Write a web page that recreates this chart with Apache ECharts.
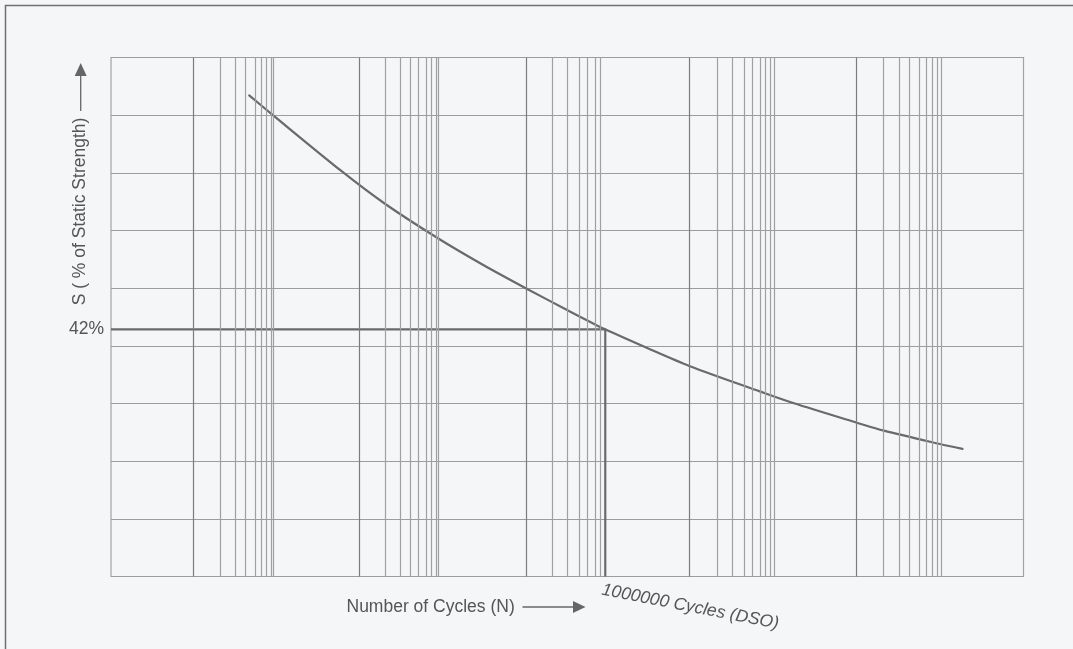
<!DOCTYPE html>
<html>
<head>
<meta charset="utf-8">
<script src="https://cdn.jsdelivr.net/npm/echarts@6/dist/echarts.min.js"></script>
<style>
html,body{margin:0;padding:0;background:#f5f6f8;}
#c{width:1073px;height:649px;}
</style>
</head>
<body>
<div id="c"></div>
<script>
// x values are log10(number of cycles); y values are % of static strength
const cycleLog = [3.836, 3.972, 4.395, 4.657, 4.980, 5.252, 5.506, 5.756, 5.990, 6.240, 6.502, 6.925, 7.127, 7.512, 7.675, 8.014, 8.151];
const strengthPct = [81.76, 78.58, 68.88, 63.35, 57.44, 52.94, 49.04, 45.34, 42.0, 38.87, 35.74, 31.46, 29.48, 26.14, 24.78, 22.52, 21.68];

// vertical grid lines (log10 cycles)
const groupStartLog = [3.504, 4.504, 5.506, 6.504, 7.514];
const minorGridLog = [
  3.659, 3.750, 3.812, 3.865, 3.907, 3.937, 3.968, 3.980,
  4.655, 4.748, 4.810, 4.863, 4.905, 4.937, 4.967, 4.984,
  5.665, 5.762, 5.829, 5.883, 5.929, 5.959,
  6.665, 6.760, 6.827, 6.883, 6.929, 6.960, 6.990, 7.006,
  7.673, 7.770, 7.834, 7.891, 7.935, 7.967, 7.998, 8.016
];

const dsoLog = 5.99;      // 1,000,000 cycles
const dsoPct = 42;        // 42 %
const xMin = 3, xMax = 8.52;
const yMin = 0, yMax = 88.2, yStep = 9.8;

const yTitle = 'S ( % of Static Strength)';
const xTitle = 'Number of Cycles (N)';
const dsoLabel = '1000000 Cycles (DSO)';
const levelLabel = dsoPct + '%';

const chart = echarts.init(document.getElementById('c'), null, {renderer: 'canvas'});
const FONT = 'Liberation Sans, Arial, Helvetica, sans-serif';
const TXT = '#555555';

chart.setOption({
  backgroundColor: '#f5f6f8',
  animation: false,
  grid: {left: 111, top: 57.5, right: 49.5, bottom: 72.5, show: true, borderColor: '#a3a3a3', borderWidth: 1.2, backgroundColor: 'transparent'},
  xAxis: {
    type: 'value', min: xMin, max: xMax,
    axisLine: {show: false}, axisTick: {show: false}, axisLabel: {show: false}, splitLine: {show: false}
  },
  yAxis: {
    type: 'value', min: yMin, max: yMax, interval: yStep,
    axisLine: {show: false}, axisTick: {show: false}, axisLabel: {show: false},
    splitLine: {show: true, lineStyle: {color: '#9d9d9d', width: 1.2}}
  },
  series: [
    {
      type: 'line', data: [], silent: true, z: 1,
      markLine: {
        silent: true, symbol: 'none', animation: false,
        label: {show: false},
        lineStyle: {color: '#a0a0a0', width: 1.2, type: 'solid'},
        data: minorGridLog.map(v => ({xAxis: v}))
      }
    },
    {
      type: 'line', data: [], silent: true, z: 1,
      markLine: {
        silent: true, symbol: 'none', animation: false,
        label: {show: false},
        lineStyle: {color: '#7c7c7c', width: 1.2, type: 'solid'},
        data: groupStartLog.map(v => ({xAxis: v}))
      }
    },
    {
      type: 'line', z: 3, silent: true,
      data: [[xMin, dsoPct], [dsoLog, dsoPct], [dsoLog, yMin]],
      showSymbol: false, symbol: 'none',
      lineStyle: {color: '#6a6a6a', width: 2.2}
    },
    {
      type: 'line', z: 4, silent: true,
      data: cycleLog.map((x, i) => [x, strengthPct[i]]),
      smooth: 0.3,
      showSymbol: false, symbol: 'none',
      lineStyle: {color: '#6a6a6a', width: 2.2, join: 'round', cap: 'round'}
    }
  ]
});

const lvl = chart.convertToPixel({gridIndex: 0}, [xMin, dsoPct]);
const dsoBottom = chart.convertToPixel({gridIndex: 0}, [dsoLog, yMin]);

chart.setOption({
  graphic: [
    // outer frame
    {type: 'rect', shape: {x: 5.5, y: 5.5, width: 1200, height: 800}, style: {fill: 'none', stroke: '#707070', lineWidth: 1.5}, silent: true},
    // y title (rotated) and arrow
    {type: 'text', x: 80.5, y: 211.5, rotation: Math.PI / 2,
      style: {text: yTitle, font: '17.5px ' + FONT, fill: TXT, align: 'center', verticalAlign: 'middle'}},
    {type: 'line', shape: {x1: 80.7, y1: 111, x2: 80.7, y2: 75}, style: {stroke: '#666', lineWidth: 1.3}},
    {type: 'polygon', shape: {points: [[80.7, 63], [74.7, 76], [86.7, 76]]}, style: {fill: '#666'}},
    // x title and arrow
    {type: 'text', x: 346.5, y: 607,
      style: {text: xTitle, font: '17.5px ' + FONT, fill: TXT, align: 'left', verticalAlign: 'middle'}},
    {type: 'line', shape: {x1: 522.5, y1: 607, x2: 575, y2: 607}, style: {stroke: '#666', lineWidth: 1.3}},
    {type: 'polygon', shape: {points: [[585.5, 607], [573, 601], [573, 613]]}, style: {fill: '#666'}},
    // 42% label
    {type: 'text', x: lvl[0] - 7, y: lvl[1],
      style: {text: levelLabel, font: '17.5px ' + FONT, fill: TXT, align: 'right', verticalAlign: 'middle'}},
    // DSO label (rotated)
    {type: 'text', x: dsoBottom[0] - 5, y: dsoBottom[1] + 22, rotation: -11 * Math.PI / 180,
      style: {text: dsoLabel, font: 'italic 17.5px ' + FONT, fill: TXT, align: 'left', verticalAlign: 'bottom'}}
  ]
});
</script>
</body>
</html>
